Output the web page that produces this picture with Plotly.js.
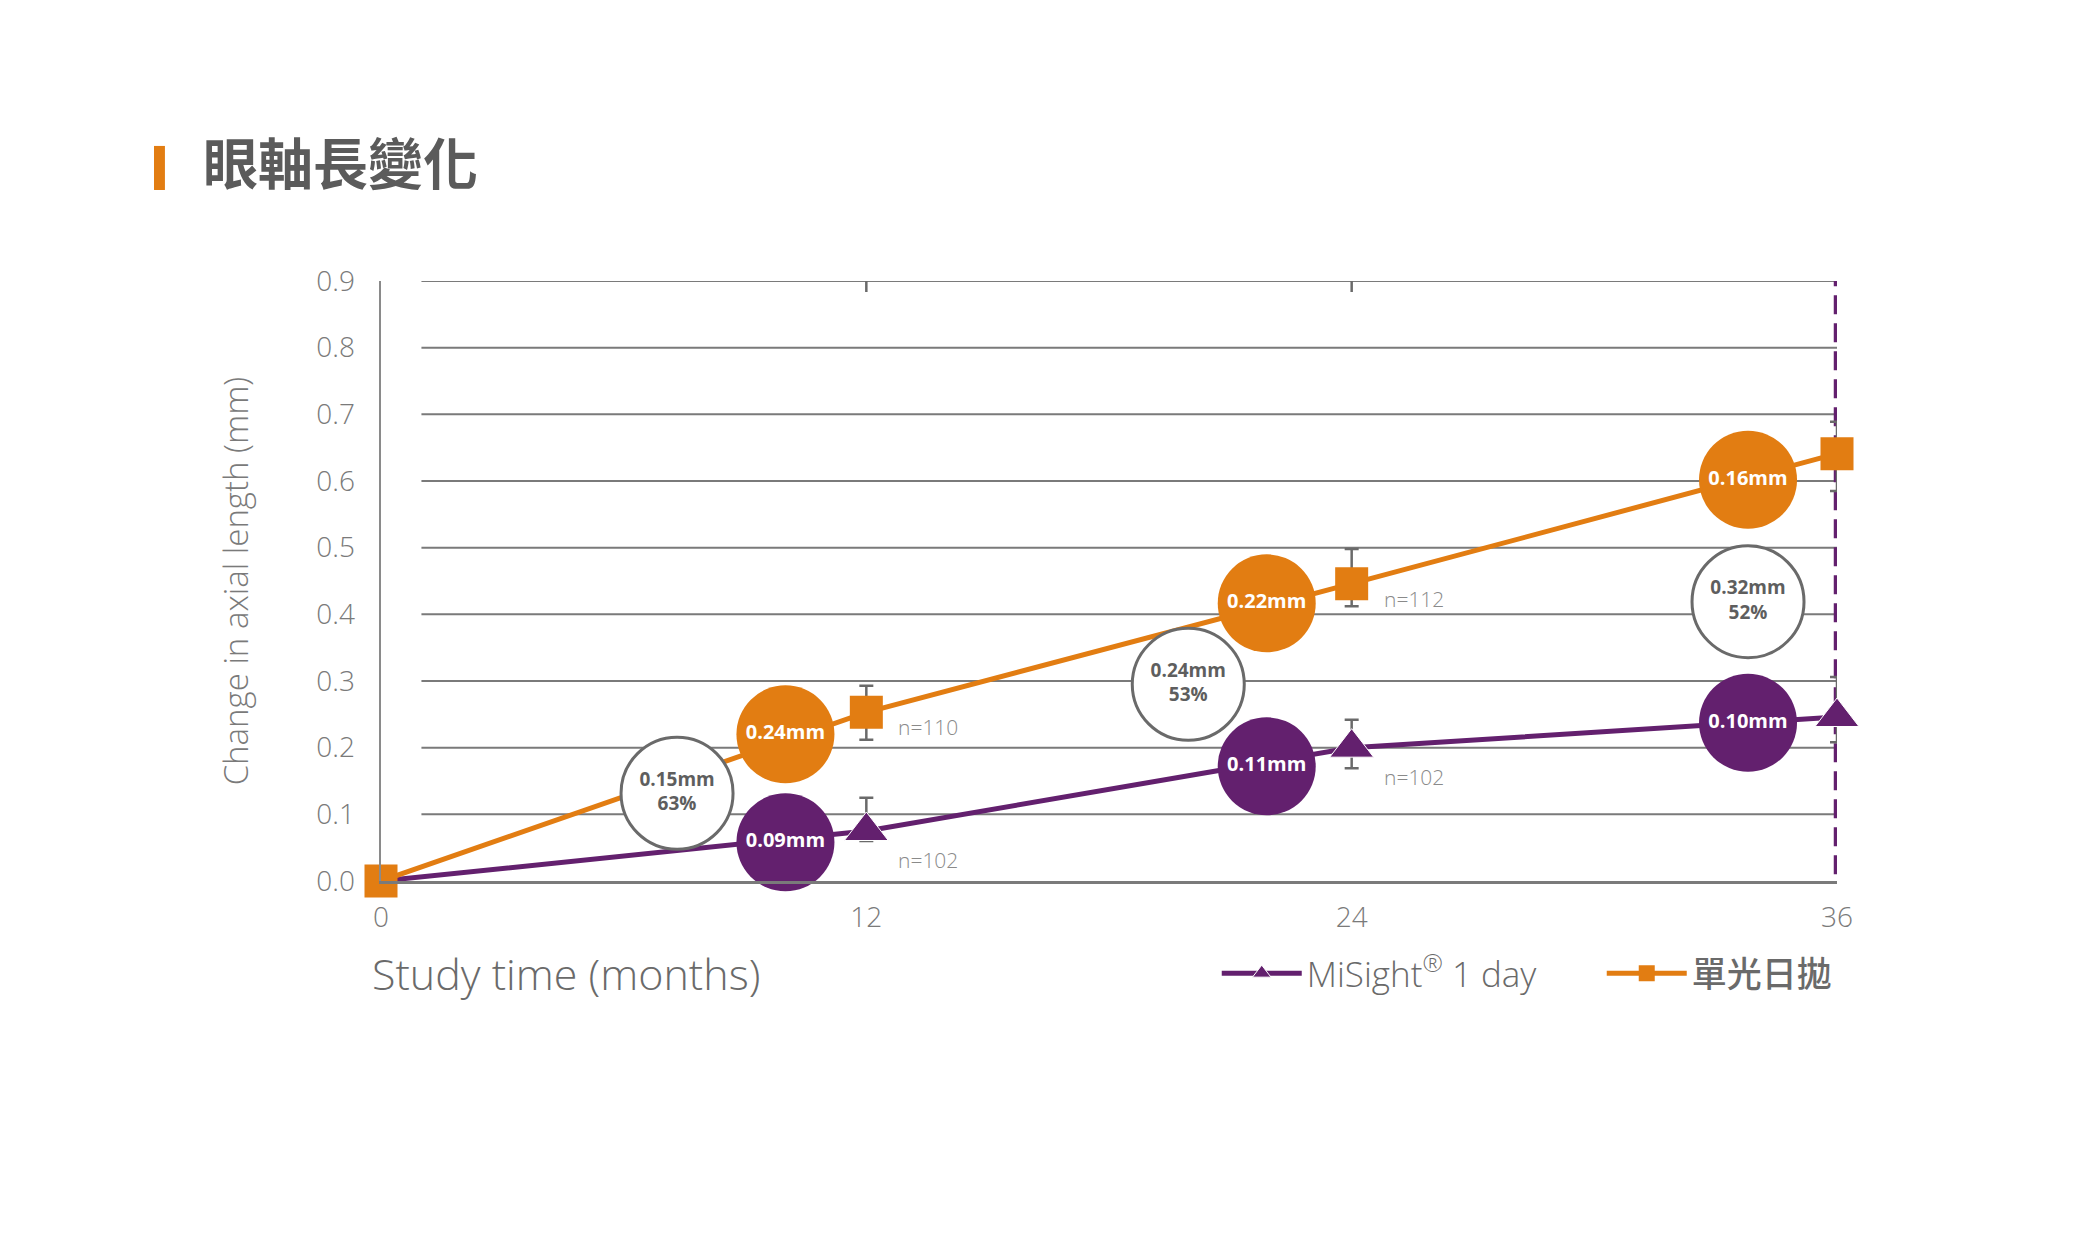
<!DOCTYPE html>
<html>
<head>
<meta charset="utf-8">
<script src="https://cdn.plot.ly/plotly-3.0.1.min.js"></script>
<style>
  html, body { margin: 0; padding: 0; background: #ffffff; }
  #chart { width: 2085px; height: 1251px; }
</style>
</head>
<body>
<div id="chart"></div>
<script>
// ---------------- data ----------------
const months = [0, 12, 24, 36];
const xTickText = ['0', '12', '24', '36'];
const yTickVals = [0, 0.1, 0.2, 0.3, 0.4, 0.5, 0.6, 0.7, 0.8, 0.9];
const yTickText = ['0.0', '0.1', '0.2', '0.3', '0.4', '0.5', '0.6', '0.7', '0.8', '0.9'];

const misightName = 'MiSight<sup style="font-size:60%">®</sup> 1 day';
const misightValues = [0, 0.075, 0.200, 0.246];
const misightErrUp = [0, 0.050, 0.042, 0.060];
const misightErrDown = [0, 0.015, 0.031, 0.038];

const singleName = '<span style="font-weight:500">單光日拋</span>';
const singleValues = [0, 0.253, 0.446, 0.641];
const singleErrUp = [0, 0.040, 0.052, 0.048];
const singleErrDown = [0, 0.041, 0.034, 0.056];

// sample sizes written next to the 12 and 24 month points
const nMonths = [12, 24];
const nSingle = ['n=110', 'n=112'];
const nSingleValues = [0.253, 0.446];
const nMisight = ['n=102', 'n=102'];
const nMisightValues = [0.075, 0.200];

// callout bubbles
const singleCalloutMonths = [10.0, 21.9, 33.8];
const singleCalloutValues = [0.220, 0.4165, 0.602];
const singleCalloutLabels = ['0.24mm', '0.22mm', '0.16mm'];

const misightCalloutMonths = [10.0, 21.9, 33.8];
const misightCalloutValues = [0.058, 0.172, 0.2374];
const misightCalloutLabels = ['0.09mm', '0.11mm', '0.10mm'];

const diffCalloutMonths = [7.32, 19.96, 33.8];
const diffCalloutValues = [0.1316, 0.295, 0.419];
const diffCalloutLabels = ['0.15mm<br>63%', '0.24mm<br>53%', '0.32mm<br>52%'];

const topTickMonths = [12, 24];
const gridStartMonth = 1;
const endMonth = 36;

// ---------------- style ----------------
const ORANGE = '#E27D12';
const PURPLE = '#63206E';
const GRID = '#7a7a7a';
const TXT = '#6a6a6a';
const LATIN = '"Open Sans", "Noto Sans", sans-serif';
const CJK = '"Noto Sans CJK TC", "Noto Sans", sans-serif';

// the triangle at month 0 is hidden under the orange square in the original
const misightMarkerSizes = months.map(m => (m === 0 ? 0 : 38));

const traces = [
  {
    x: months, y: misightValues, name: misightName,
    type: 'scatter', mode: 'lines+markers', cliponaxis: false,
    line: {color: PURPLE, width: 5},
    marker: {symbol: 'triangle-up', size: misightMarkerSizes, color: PURPLE, opacity: 1},
    error_y: {type: 'data', symmetric: false, array: misightErrUp, arrayminus: misightErrDown,
              color: '#6a6a6a', thickness: 2.5, width: 7},
    hoverinfo: 'skip'
  },
  {
    x: months, y: singleValues, name: singleName,
    type: 'scatter', mode: 'lines+markers', cliponaxis: false,
    line: {color: ORANGE, width: 5},
    marker: {symbol: 'square', size: 33, color: ORANGE},
    error_y: {type: 'data', symmetric: false, array: singleErrUp, arrayminus: singleErrDown,
              color: '#6a6a6a', thickness: 2.5, width: 7},
    hoverinfo: 'skip'
  },
  {
    x: singleCalloutMonths, y: singleCalloutValues, text: singleCalloutLabels,
    type: 'scatter', mode: 'markers+text', showlegend: false, cliponaxis: false,
    marker: {size: 98, color: ORANGE},
    textposition: 'middle center',
    textfont: {family: LATIN, size: 20, color: '#ffffff', weight: 'bold'},
    hoverinfo: 'skip'
  },
  {
    x: misightCalloutMonths, y: misightCalloutValues, text: misightCalloutLabels,
    type: 'scatter', mode: 'markers+text', showlegend: false, cliponaxis: false,
    marker: {size: 98, color: PURPLE},
    textposition: 'middle center',
    textfont: {family: LATIN, size: 20, color: '#ffffff', weight: 'bold'},
    hoverinfo: 'skip'
  },
  {
    x: diffCalloutMonths, y: diffCalloutValues, text: diffCalloutLabels,
    type: 'scatter', mode: 'markers+text', showlegend: false, cliponaxis: false,
    marker: {size: 112, color: '#ffffff', line: {color: '#6a6a6a', width: 3}},
    textposition: 'middle center',
    textfont: {family: LATIN, size: 19, color: '#5e5e5e', weight: 'bold'},
    hoverinfo: 'skip'
  }
];

const shapes = [];
yTickVals.filter(v => v > 0).forEach(v => {
  shapes.push({type: 'line', xref: 'x', yref: 'y', x0: gridStartMonth, x1: endMonth, y0: v, y1: v,
               line: {color: GRID, width: 2}, layer: 'below'});
});
topTickMonths.forEach(m => {
  shapes.push({type: 'line', xref: 'x', yref: 'y', ysizemode: 'pixel',
               yanchor: yTickVals[yTickVals.length - 1], x0: m, x1: m, y0: -11, y1: 11,
               line: {color: '#6a6a6a', width: 2.5}, layer: 'below'});
});
shapes.push({type: 'line', xref: 'x', yref: 'y', x0: endMonth, x1: endMonth,
             y0: 0.01, y1: yTickVals[yTickVals.length - 1],
             line: {color: PURPLE, width: 6.5, dash: '19px,9px'}, layer: 'below'});
// orange bar in front of the page title
shapes.push({type: 'rect', xref: 'paper', yref: 'paper', x0: -0.1559, x1: -0.1484, y0: 1.1517, y1: 1.2251,
             fillcolor: ORANGE, line: {width: 0}});

const annotations = [];
nMonths.forEach((m, i) => {
  annotations.push({x: m, y: nSingleValues[i], xref: 'x', yref: 'y', text: nSingle[i],
                    showarrow: false, xanchor: 'left', yanchor: 'middle', xshift: 30, yshift: -15,
                    font: {family: LATIN, size: 21, color: '#8a8a8a', weight: 300}});
  annotations.push({x: m, y: nMisightValues[i], xref: 'x', yref: 'y', text: nMisight[i],
                    showarrow: false, xanchor: 'left', yanchor: 'middle', xshift: 30, yshift: -29,
                    font: {family: LATIN, size: 21, color: '#8a8a8a', weight: 300}});
});
annotations.push({x: -0.0076, y: -0.154, xref: 'paper', yref: 'paper', text: 'Study time (months)',
                  showarrow: false, xanchor: 'left', yanchor: 'middle',
                  font: {family: LATIN, size: 43, color: TXT, weight: 300}});

const layout = {
  width: 2085, height: 1251,
  paper_bgcolor: '#ffffff', plot_bgcolor: '#ffffff',
  margin: {l: 381, r: 248, t: 281, b: 370},
  title: {
    text: '眼軸長變化', x: 0.0974, xanchor: 'left', xref: 'container',
    y: 0.868, yanchor: 'middle', yref: 'container',
    font: {family: CJK, size: 55, color: '#5b5b5b', weight: 'bold'}
  },
  xaxis: {
    range: [0, endMonth], showgrid: false, zeroline: false,
    showline: true, linecolor: '#7a7a7a', linewidth: 2.5,
    tickvals: months, ticktext: xTickText, ticks: '', ticklabelstandoff: 10,
    tickfont: {family: LATIN, size: 28, color: '#7a7a7a', weight: 300},
    fixedrange: true
  },
  yaxis: {
    range: [0, 0.9], showgrid: false, zeroline: false,
    showline: true, linecolor: '#8a8a8a', linewidth: 2.5,
    tickvals: yTickVals, ticktext: yTickText, ticks: '', ticklabelstandoff: 18,
    tickfont: {family: LATIN, size: 28, color: '#7a7a7a', weight: 300},
    title: {text: 'Change in axial length (mm)', standoff: 58,
            font: {family: LATIN, size: 33, color: '#7a7a7a', weight: 300}},
    fixedrange: true
  },
  legend: {
    orientation: 'h', x: 0.574, xanchor: 'left', y: -0.154, yanchor: 'middle',
    font: {family: '"Open Sans", "Noto Sans CJK TC", sans-serif', size: 35, color: TXT, weight: 300},
    itemwidth: 80, entrywidth: 290, entrywidthmode: 'pixels', traceorder: 'normal',
    bgcolor: 'rgba(0,0,0,0)'
  },
  shapes: shapes,
  annotations: annotations,
  showlegend: true
};

Plotly.newPlot('chart', traces, layout, {staticPlot: true, displayModeBar: false});
</script>
</body>
</html>
